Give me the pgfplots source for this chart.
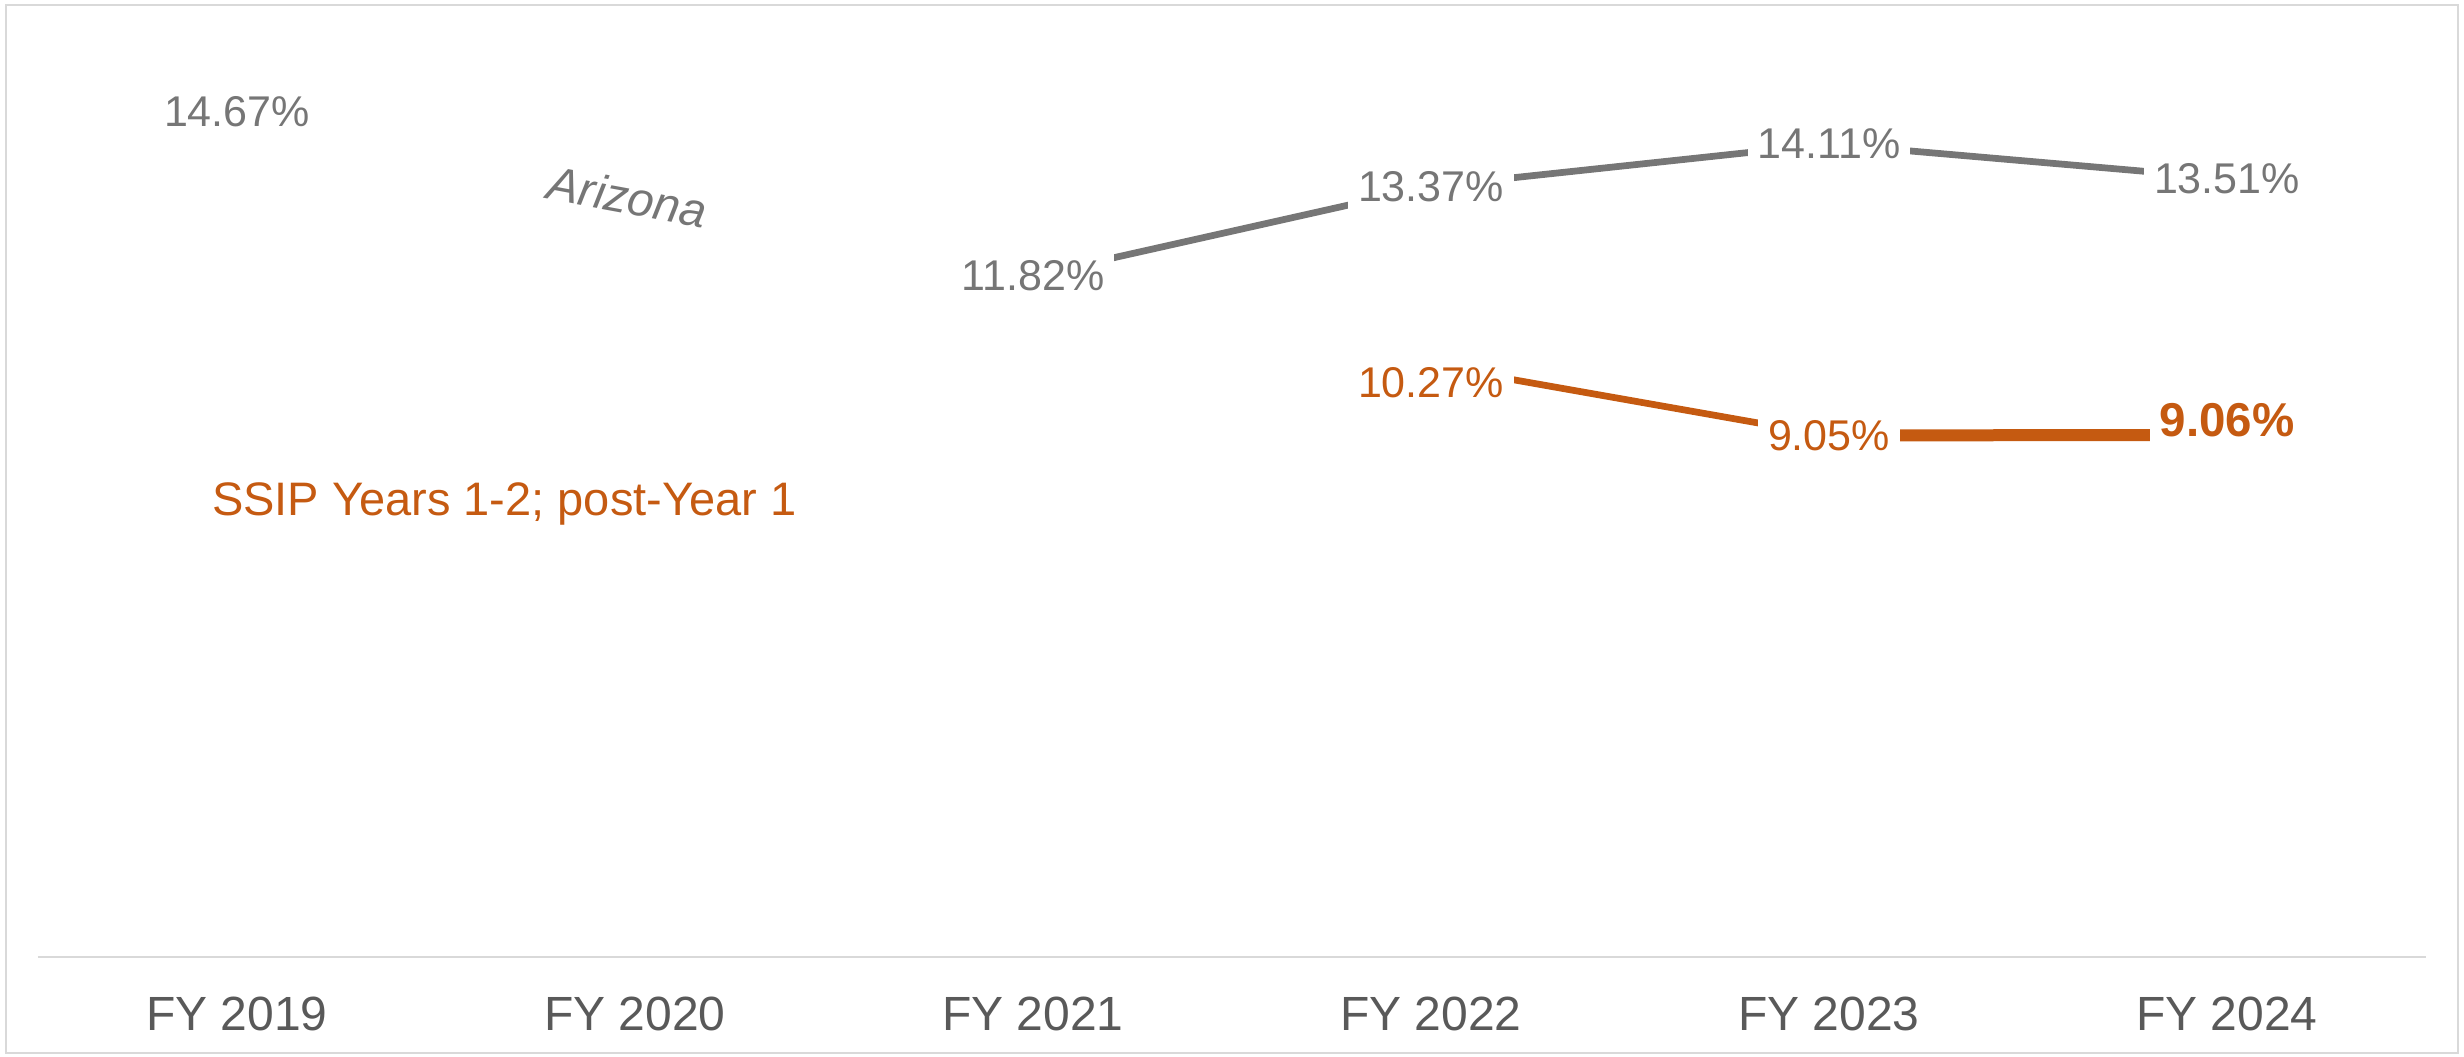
\documentclass[border=0pt]{standalone}
\usepackage{fontspec}
\setmainfont{Liberation Sans}
\usepackage{pgfplots}
\pgfplotsset{compat=1.18}
\definecolor{azgray}{HTML}{767676}
\definecolor{ssiporange}{HTML}{C55A11}
\definecolor{ticktext}{HTML}{595959}
\definecolor{framegray}{HTML}{D9D9D9}
\tikzset{lbl/.style={fill=white, inner xsep=2pt, inner ysep=2pt, anchor=center, font=\fontsize{8.6pt}{10pt}\selectfont}}
\pgfplotsset{pct/.style={point meta=y, nodes near coords={\pgfmathprintnumber[fixed,fixed zerofill,precision=2,assume math mode=true]{\pgfplotspointmeta}\%}}}

\begin{document}
\begin{tikzpicture}
\useasboundingbox (0,0) rectangle (492.8pt,211.4pt);
\begin{axis}[
  at={(7.6pt,20pt)}, anchor=south west,
  scale only axis, width=477.6pt, height=184.4pt,
  xmin=-0.5, xmax=5.5, ymin=0, ymax=16,
  axis x line=bottom, axis y line=none,
  axis line style={-, framegray, line width=0.4pt},
  xtick={0,1,2,3,4,5},
  xticklabels={FY 2019, FY 2020, FY 2021, FY 2022, FY 2023, FY 2024},
  major tick length=0pt,
  xticklabel style={anchor=base, yshift=-14.8pt, font=\fontsize{9.6pt}{11pt}\selectfont, text=ticktext},
  ytick=\empty,
  clip=false,
]
% Arizona
\addplot[azgray, line width=1.35pt, mark=none, pct,
  every node near coord/.append style={lbl, text=azgray}]
  coordinates {(2,11.82) (3,13.37) (4,14.11) (5,13.51)};
\addplot[draw=none, mark=none, pct,
  every node near coord/.append style={lbl, text=azgray}]
  coordinates {(0,14.67)};

% SSIP
\addplot[ssiporange, line width=2.4pt, mark=none] coordinates {(4,9.05) (5,9.06)};
\addplot[ssiporange, line width=1.35pt, mark=none] coordinates {(3,10.27) (4,9.05)};
\addplot[draw=none, mark=none, pct,
  every node near coord/.append style={lbl, text=ssiporange, yshift=-3.6pt}]
  coordinates {(3,10.27)};
\addplot[draw=none, mark=none, pct,
  every node near coord/.append style={lbl, text=ssiporange}]
  coordinates {(4,9.05)};
\addplot[draw=none, mark=none, pct,
  every node near coord/.append style={lbl, text=ssiporange, yshift=3pt, font=\fontsize{9.5pt}{11pt}\selectfont\bfseries}]
  coordinates {(5,9.06)};

\node[rotate=-10.5, text=azgray, font=\fontsize{9.5pt}{11pt}\selectfont\itshape] at (axis cs:0.982,13.19) {Arizona};
\node[anchor=base west, inner sep=0pt, text=ssiporange, font=\fontsize{9.4pt}{11pt}\selectfont] at (axis cs:-0.065,7.67) {SSIP Years 1-2; post-Year 1};
\end{axis}
\draw[framegray, line width=0.4pt] (1.2pt,0.8pt) rectangle (491.6pt,210.4pt);
\end{tikzpicture}
\end{document}
